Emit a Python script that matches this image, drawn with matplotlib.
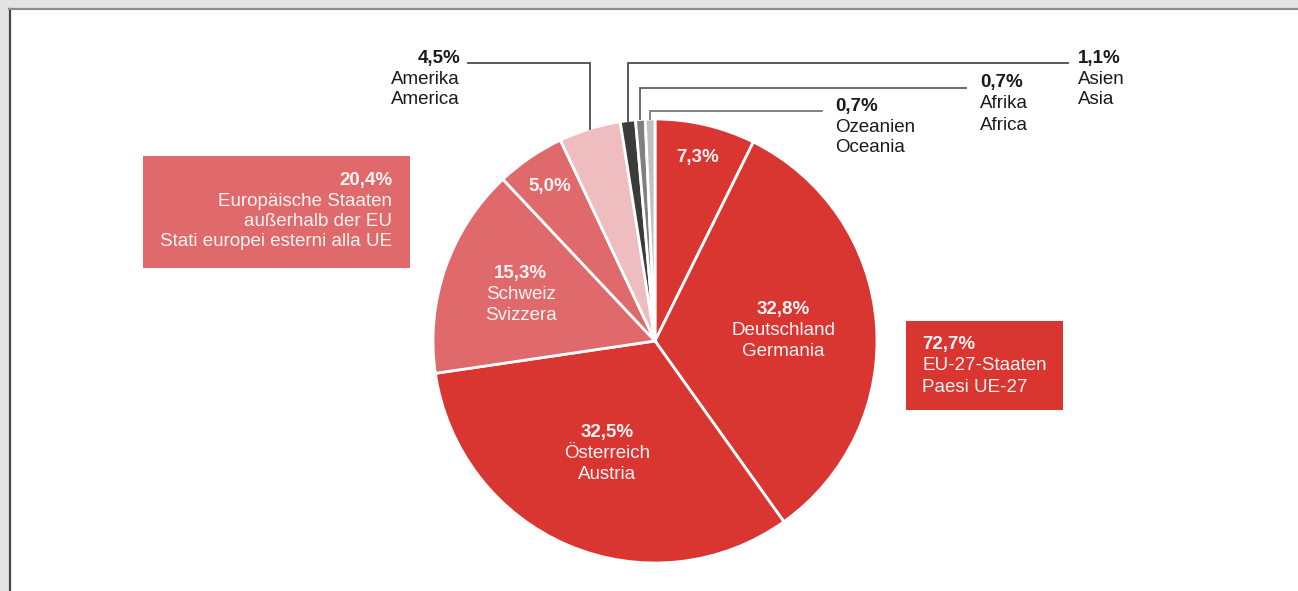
"""Pie chart: share of guests by origin (DE/IT labels)."""

import matplotlib

matplotlib.use("Agg")

import matplotlib.pyplot as plt
import numpy as np
from matplotlib.patches import Rectangle

W, H = 1298, 591

# data, clockwise from the top
shares = [7.3, 32.8, 32.5, 15.3, 5.0, 4.5, 1.1, 0.7, 0.7]
pct_labels = ["7,3%", "32,8%", "32,5%", "15,3%", "5,0%", "4,5%", "1,1%", "0,7%", "0,7%"]
names_de = ["", "Deutschland", "Österreich", "Schweiz", "", "Amerika", "Asien", "Afrika", "Ozeanien"]
names_it = ["", "Germania", "Austria", "Svizzera", "", "America", "Asia", "Africa", "Oceania"]

group_pct = ["72,7%", "20,4%"]
group_de = ["EU-27-Staaten", "Europäische Staaten\naußerhalb der EU"]
group_it = ["Paesi UE-27", "Stati europei esterni alla UE"]

RED = "#d93632"
ROSE = "#e06a6b"
colors = [RED, RED, RED, ROSE, ROSE, "#efbdbf", "#3b3b3b", "#808080", "#c0c0c0"]

FS = 13.5


def ty(y_px):
    # layout helper: pixel row from the top -> data y
    return H - y_px


def main():
    plt.rcParams.update({"font.family": ["Liberation Sans", "DejaVu Sans"], "font.size": FS})

    fig = plt.figure(figsize=(W / 100, H / 100), dpi=100, facecolor="#e4e4e4")
    ax = fig.add_axes([0, 0, 1, 1])

    # white panel with frame lines
    ax.add_patch(Rectangle((9, 0), W - 9, ty(9), facecolor="white", edgecolor="none", zorder=0))
    ax.plot([9.5, 9.5], [0, ty(9)], color="#474747", lw=1.6, zorder=1)
    ax.plot([9, W], [ty(8.5), ty(8.5)], color="#8c8c8c", lw=1.6, zorder=1)

    cx, cy, r = 655, ty(341), 222
    wedges, _ = ax.pie(
        shares,
        colors=colors,
        startangle=90,
        counterclock=False,
        center=(cx, cy),
        radius=r,
        wedgeprops=dict(edgecolor="white", linewidth=2),
        frame=True,
    )
    ax.set_xlim(0, W)
    ax.set_ylim(0, H)
    ax.axis("off")

    step = 21
    in_txt = dict(color="#fdf3f3", ha="center", va="center", fontsize=FS)

    # labels inside the slices
    frac = [0.85, 0.58, 0.55, 0.64, 0.84]
    for i, f in enumerate(frac):
        w = wedges[i]
        mid = np.deg2rad((w.theta1 + w.theta2) / 2)
        x = cx + f * r * np.cos(mid)
        y = cy + f * r * np.sin(mid)
        if names_de[i]:
            ax.text(x, y + step, pct_labels[i], fontweight="bold", **in_txt)
            ax.text(x, y, names_de[i], **in_txt)
            ax.text(x, y - step, names_it[i], **in_txt)
        else:
            ax.text(x, y, pct_labels[i], fontweight="bold", **in_txt)

    # leader lines and labels for the small slices
    elbow_y = [63, 63, 88, 111]
    end_x = [468, 1068, 966, 822]
    lab_x = [460, 1078, 980, 835]
    lab_ha = ["right", "left", "left", "left"]
    line_col = ["#4a4a4a", "#4a4a4a", "#5e5e5e", "#7a7a7a"]
    for k, i in enumerate(range(5, 9)):
        w = wedges[i]
        mid = np.deg2rad((w.theta1 + w.theta2) / 2)
        x0 = cx + r * np.cos(mid)
        y0 = cy + r * np.sin(mid)
        ey = ty(elbow_y[k])
        ax.plot([x0, x0, end_x[k]], [y0, ey, ey], color=line_col[k], lw=1.3,
                solid_joinstyle="miter", zorder=1)
        out_txt = dict(color="#1a1a1a", ha=lab_ha[k], va="center", fontsize=FS)
        ty0 = ey + 5
        ax.text(lab_x[k], ty0, pct_labels[i], fontweight="bold", **out_txt)
        ax.text(lab_x[k], ty0 - step, names_de[i], **out_txt)
        ax.text(lab_x[k], ty0 - 2 * step, names_it[i], **out_txt)

    # group boxes
    ax.add_patch(Rectangle((906, ty(410)), 157, 89, facecolor=RED, edgecolor="none", zorder=2))
    bx = dict(color="#fdf3f3", ha="left", va="center", fontsize=FS, zorder=3)
    ax.text(922, ty(345), group_pct[0], fontweight="bold", **bx)
    ax.text(922, ty(366), group_de[0], **bx)
    ax.text(922, ty(387), group_it[0], **bx)

    ax.add_patch(Rectangle((143, ty(268)), 267, 112, facecolor=ROSE, edgecolor="none", zorder=2))
    bx = dict(color="#fdf3f3", ha="right", va="center", fontsize=FS, zorder=3)
    de_lines = group_de[1].split("\n")
    ax.text(392, ty(181), group_pct[1], fontweight="bold", **bx)
    ax.text(392, ty(201), de_lines[0], **bx)
    ax.text(392, ty(221), de_lines[1], **bx)
    ax.text(392, ty(241), group_it[1], **bx)

    fig.savefig("out.png", dpi=100, facecolor=fig.get_facecolor())
    plt.close(fig)


if __name__ == "__main__":
    main()
